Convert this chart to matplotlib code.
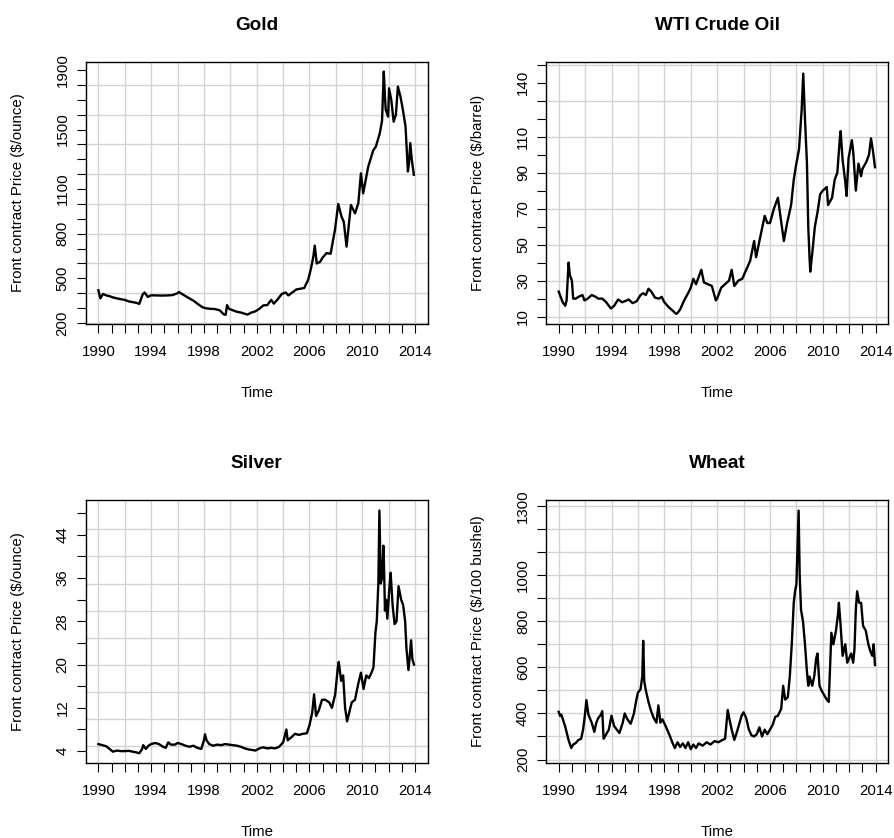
import matplotlib
matplotlib.use("Agg")
import matplotlib.pyplot as plt
import numpy as np
from matplotlib.ticker import FixedLocator, FuncFormatter

plt.rcParams['font.family'] = ['Liberation Sans', 'DejaVu Sans']

# front contract prices: (year, price)
gold = [(1990.0, 420), (1990.15, 365), (1990.35, 395), (1990.6, 385), (1990.85, 380),
        (1991.1, 372), (1991.4, 365), (1991.7, 360), (1992.0, 355), (1992.3, 345),
        (1992.6, 340), (1992.9, 335), (1993.1, 328), (1993.35, 390), (1993.5, 405),
        (1993.75, 375), (1994.0, 386), (1994.4, 385), (1994.8, 384), (1995.2, 385),
        (1995.6, 387), (1996.0, 400), (1996.1, 408), (1996.5, 386), (1996.9, 365),
        (1997.2, 350), (1997.5, 330), (1997.9, 305), (1998.2, 298), (1998.5, 295),
        (1998.8, 294), (1999.2, 285), (1999.5, 258), (1999.65, 255), (1999.75, 320),
        (1999.9, 295), (2000.2, 285), (2000.5, 275), (2000.8, 270), (2001.1, 262),
        (2001.3, 256), (2001.6, 270), (2001.9, 278), (2002.2, 295), (2002.5, 318),
        (2002.8, 320), (2003.1, 355), (2003.3, 330), (2003.6, 360), (2003.9, 395),
        (2004.2, 405), (2004.4, 385), (2004.7, 405), (2005.0, 425), (2005.3, 430),
        (2005.6, 435), (2005.9, 490), (2006.1, 560), (2006.3, 650), (2006.4, 720),
        (2006.55, 600), (2006.8, 610), (2007.0, 640), (2007.3, 670), (2007.6, 665),
        (2007.93, 825), (2008.18, 1000), (2008.43, 914), (2008.6, 880), (2008.81, 713),
        (2009.14, 993), (2009.45, 937), (2009.7, 1004), (2009.9, 1206), (2010.07, 1071),
        (2010.45, 1250), (2010.83, 1360), (2011.03, 1385), (2011.33, 1475), (2011.5, 1560),
        (2011.63, 1890), (2011.72, 1720), (2011.78, 1632), (2011.96, 1587), (2012.03, 1777),
        (2012.2, 1700), (2012.38, 1553), (2012.55, 1600), (2012.7, 1789), (2012.9, 1720),
        (2013.08, 1632), (2013.28, 1520), (2013.46, 1218), (2013.55, 1280), (2013.64, 1409),
        (2013.75, 1300), (2013.91, 1196)]

wti = [(1990.0, 23.9), (1990.15, 21), (1990.3, 18), (1990.5, 16), (1990.6, 19),
       (1990.75, 40), (1990.85, 33), (1991.0, 30), (1991.1, 20), (1991.3, 20),
       (1991.5, 21), (1991.8, 22), (1991.95, 19), (1992.2, 20), (1992.5, 22),
       (1992.8, 21), (1993.0, 20), (1993.3, 20), (1993.6, 18), (1993.95, 14.5),
       (1994.2, 16), (1994.5, 19.5), (1994.8, 18), (1995.0, 18.5), (1995.3, 19.5),
       (1995.6, 17.5), (1995.9, 18.5), (1996.2, 22), (1996.4, 23), (1996.6, 22),
       (1996.8, 25.5), (1997.0, 24), (1997.3, 20.5), (1997.6, 20), (1997.8, 21),
       (1998.0, 18), (1998.3, 15.5), (1998.6, 13.5), (1998.9, 11.5), (1999.0, 12),
       (1999.2, 14), (1999.5, 19), (1999.8, 23), (2000.0, 26), (2000.2, 31),
       (2000.4, 28), (2000.7, 34), (2000.8, 36), (2001.0, 29), (2001.3, 28),
       (2001.6, 27), (2001.9, 19), (2002.0, 20), (2002.3, 26), (2002.6, 28),
       (2002.9, 30), (2003.1, 36), (2003.3, 27), (2003.6, 30), (2003.9, 31),
       (2004.2, 36), (2004.5, 41), (2004.8, 52), (2004.95, 43), (2005.2, 52),
       (2005.6, 66), (2005.8, 62), (2006.0, 62), (2006.3, 70), (2006.6, 76),
       (2006.9, 60), (2007.05, 52), (2007.3, 62), (2007.6, 72), (2007.8, 86),
       (2007.95, 93), (2008.2, 103), (2008.4, 125), (2008.52, 145), (2008.65, 120),
       (2008.8, 95), (2008.9, 60), (2009.0, 42), (2009.05, 35), (2009.2, 45),
       (2009.4, 60), (2009.6, 68), (2009.8, 78), (2010.0, 80), (2010.3, 82),
       (2010.4, 72), (2010.7, 76), (2010.9, 86), (2011.1, 90), (2011.3, 110),
       (2011.35, 113), (2011.5, 97), (2011.7, 85), (2011.8, 77), (2011.95, 98),
       (2012.2, 108), (2012.3, 102), (2012.5, 80), (2012.7, 95), (2012.9, 88),
       (2013.0, 92), (2013.3, 96), (2013.5, 100), (2013.65, 109), (2013.8, 102),
       (2013.95, 93)]

silver = [(1990.0, 5.3), (1990.3, 5.1), (1990.6, 4.9), (1990.9, 4.3), (1991.1, 3.9),
          (1991.4, 4.1), (1991.7, 4.0), (1992.0, 4.0), (1992.3, 4.05), (1992.6, 3.9),
          (1992.9, 3.75), (1993.1, 3.6), (1993.3, 4.3), (1993.4, 5.1), (1993.6, 4.4),
          (1993.8, 5.0), (1994.0, 5.3), (1994.3, 5.5), (1994.6, 5.3), (1994.9, 4.8),
          (1995.1, 4.6), (1995.3, 5.6), (1995.5, 5.2), (1995.8, 5.2), (1996.0, 5.5),
          (1996.3, 5.3), (1996.6, 5.0), (1996.9, 4.8), (1997.2, 5.0), (1997.5, 4.6),
          (1997.8, 4.4), (1998.0, 6.0), (1998.08, 7.1), (1998.2, 6.0), (1998.4, 5.3),
          (1998.7, 5.0), (1999.0, 5.2), (1999.3, 5.1), (1999.6, 5.3), (1999.9, 5.2),
          (2000.2, 5.1), (2000.5, 5.0), (2000.8, 4.8), (2001.1, 4.5), (2001.4, 4.3),
          (2001.7, 4.2), (2001.9, 4.1), (2002.2, 4.5), (2002.5, 4.7), (2002.8, 4.5),
          (2003.1, 4.6), (2003.4, 4.5), (2003.7, 4.8), (2004.0, 5.6), (2004.25, 8.0),
          (2004.35, 6.0), (2004.6, 6.5), (2004.9, 7.2), (2005.2, 7.0), (2005.5, 7.2),
          (2005.8, 7.3), (2006.0, 8.8), (2006.2, 11), (2006.35, 14.5), (2006.5, 10.5),
          (2006.7, 11.5), (2006.95, 13.5), (2007.2, 13.5), (2007.5, 13), (2007.7, 12),
          (2007.95, 14.5), (2008.15, 19.5), (2008.22, 20.5), (2008.4, 17), (2008.55, 18),
          (2008.7, 12), (2008.85, 9.5), (2009.0, 11), (2009.2, 13), (2009.45, 13.5),
          (2009.7, 16.5), (2009.9, 18.5), (2010.1, 15.5), (2010.3, 18), (2010.5, 17.5),
          (2010.7, 18.5), (2010.85, 19.5), (2011.0, 26), (2011.1, 28), (2011.22, 35),
          (2011.3, 48.5), (2011.4, 35), (2011.5, 36), (2011.6, 42), (2011.65, 38),
          (2011.72, 30), (2011.8, 32), (2011.9, 28.5), (2012.05, 34), (2012.15, 37),
          (2012.3, 31), (2012.45, 27.5), (2012.6, 28), (2012.75, 34.5), (2012.95, 32),
          (2013.1, 31), (2013.25, 28), (2013.35, 23), (2013.5, 19), (2013.6, 21.5),
          (2013.7, 24.5), (2013.8, 21), (2013.92, 20)]

wheat = [(1990.0, 407), (1990.1, 390), (1990.2, 395), (1990.5, 342), (1990.75, 284),
         (1990.95, 250), (1991.1, 265), (1991.3, 272), (1991.5, 285), (1991.7, 290),
         (1991.85, 330), (1992.0, 400), (1992.1, 458), (1992.25, 395), (1992.5, 360),
         (1992.7, 320), (1992.85, 360), (1993.0, 380), (1993.2, 395), (1993.3, 410),
         (1993.4, 290), (1993.6, 310), (1993.8, 330), (1994.0, 390), (1994.2, 345),
         (1994.4, 330), (1994.6, 315), (1994.85, 360), (1995.0, 400), (1995.2, 375),
         (1995.45, 355), (1995.7, 400), (1995.85, 450), (1996.0, 490), (1996.2, 505),
         (1996.33, 560), (1996.4, 715), (1996.48, 540), (1996.6, 500), (1996.8, 450),
         (1997.0, 410), (1997.2, 380), (1997.4, 360), (1997.55, 435), (1997.7, 360),
         (1997.85, 375), (1998.1, 345), (1998.4, 305), (1998.6, 275), (1998.8, 250),
         (1999.0, 275), (1999.2, 255), (1999.4, 270), (1999.6, 250), (1999.8, 275),
         (2000.0, 245), (2000.2, 265), (2000.4, 250), (2000.6, 270), (2000.9, 260),
         (2001.2, 275), (2001.5, 265), (2001.8, 280), (2002.1, 275), (2002.4, 285),
         (2002.6, 290), (2002.8, 415), (2002.95, 370), (2003.1, 330), (2003.3, 285),
         (2003.5, 320), (2003.7, 360), (2003.85, 390), (2004.0, 405), (2004.2, 380),
         (2004.4, 330), (2004.6, 305), (2004.8, 300), (2005.0, 310), (2005.2, 340),
         (2005.4, 300), (2005.6, 330), (2005.8, 310), (2006.0, 330), (2006.2, 350),
         (2006.4, 385), (2006.6, 390), (2006.85, 420), (2007.0, 520), (2007.15, 460),
         (2007.35, 470), (2007.5, 560), (2007.65, 700), (2007.8, 880), (2007.9, 930),
         (2008.0, 960), (2008.1, 1150), (2008.17, 1280), (2008.25, 1000), (2008.35, 850),
         (2008.5, 800), (2008.65, 700), (2008.8, 580), (2008.9, 520), (2009.0, 560),
         (2009.2, 520), (2009.35, 560), (2009.5, 640), (2009.6, 660), (2009.75, 520),
         (2009.9, 500), (2010.1, 480), (2010.3, 460), (2010.45, 450), (2010.55, 600),
         (2010.65, 750), (2010.8, 700), (2011.0, 760), (2011.15, 830), (2011.22, 880),
         (2011.35, 780), (2011.5, 650), (2011.7, 700), (2011.85, 620), (2012.0, 640),
         (2012.15, 660), (2012.3, 620), (2012.4, 680), (2012.5, 850), (2012.6, 930),
         (2012.75, 880), (2012.9, 880), (2013.05, 780), (2013.25, 760), (2013.45, 700),
         (2013.6, 670), (2013.75, 650), (2013.85, 700), (2013.95, 610)]

titles = ['Gold', 'WTI Crude Oil', 'Silver', 'Wheat']
ylabels = ['Front contract Price ($/ounce)', 'Front contract Price ($/barrel)',
           'Front contract Price ($/ounce)', 'Front contract Price ($/100 bushel)']

years = np.arange(1990, 2015)
year_labels = [1990, 1994, 1998, 2002, 2006, 2010, 2014]
year_grid = np.arange(1990, 2015, 2)

gold_ticks = np.arange(200, 1901, 100)
gold_tlab = [200, 500, 800, 1100, 1500, 1900]
gold_grid = np.arange(200, 1801, 200)
wti_ticks = np.arange(10, 151, 10)
wti_tlab = [10, 30, 50, 70, 90, 110, 140]
wti_grid = np.arange(10, 151, 20)
silver_ticks = np.arange(4, 49, 4)
silver_tlab = [4, 12, 20, 28, 36, 44]
silver_grid = np.arange(5, 46, 5)
wheat_ticks = np.arange(200, 1301, 100)
wheat_tlab = [200, 400, 600, 800, 1000, 1300]
wheat_grid = np.arange(200, 1301, 100)

W, H = 895, 838
fig = plt.figure(figsize=(W / 100, H / 100), dpi=100)

GRID = '#d3d3d3'
FS = 10.8


def only(labels):
    return FuncFormatter(lambda v, p: f'{int(round(v))}' if int(round(v)) in labels else '')


def panel(box, title, data, ylabel, ylim, ticks, tlab, grid):
    l, t, r, b = box
    ax = fig.add_axes([l / W, 1 - b / H, (r - l) / W, (b - t) / H])
    tt, vv = zip(*data)
    for g in year_grid:
        ax.axvline(g, color=GRID, lw=1.0, zorder=0)
    for g in grid:
        ax.axhline(g, color=GRID, lw=1.0, zorder=0)
    ax.plot(tt, vv, color='black', lw=1.7, zorder=2)
    ax.set_xlim(1989.04, 2014.96)
    ax.set_ylim(*ylim)

    ax.xaxis.set_major_locator(FixedLocator(years))
    ax.xaxis.set_major_formatter(only(year_labels))
    ax.yaxis.set_major_locator(FixedLocator(ticks))
    ax.yaxis.set_major_formatter(only(tlab))
    ax.tick_params(axis='both', direction='out', length=6.5, width=0.8,
                   labelsize=FS, colors='black')
    ax.tick_params(axis='x', pad=8.6)
    ax.tick_params(axis='y', pad=5, labelrotation=90)
    for lab in ax.get_yticklabels():
        lab.set_va('center')
    for s in ax.spines.values():
        s.set_linewidth(1.0)
        s.set_color('black')

    ax.set_title(title, fontsize=13.6, fontweight='bold', pad=23)
    ax.set_xlabel('Time', fontsize=FS)
    ax.xaxis.set_label_coords(0.5, -69 / (b - t))
    ax.xaxis.label.set_va('center')
    ax.set_ylabel(ylabel, fontsize=FS)
    ax.yaxis.set_label_coords(-67.7 / (r - l), 0.5)
    ax.yaxis.label.set_va('center')
    return ax


panel((85.7, 61.7, 427.7, 324), titles[0], gold, ylabels[0], (193, 1956),
      gold_ticks, gold_tlab, gold_grid)
panel((546, 61.7, 888.3, 324), titles[1], wti, ylabels[1], (5.9, 151.6),
      wti_ticks, wti_tlab, wti_grid)
panel((85.7, 500, 427.7, 763), titles[2], silver, ylabels[2], (1.8, 50.45),
      silver_ticks, silver_tlab, silver_grid)
panel((546, 500, 888.3, 763), titles[3], wheat, ylabels[3], (185, 1326),
      wheat_ticks, wheat_tlab, wheat_grid)

fig.savefig('out.png', dpi=100)
